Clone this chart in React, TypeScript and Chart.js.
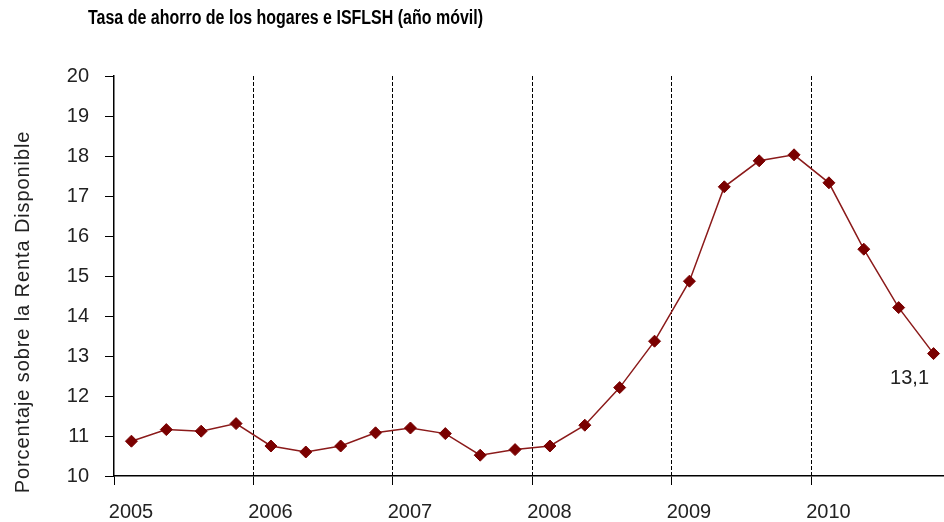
import { useEffect, useRef } from 'react';
import { Chart, registerables } from 'chart.js';

Chart.register(...registerables);

const TITLE = 'Tasa de ahorro de los hogares e ISFLSH (año móvil)';
const Y_TITLE = 'Porcentaje sobre la Renta Disponible';
const YEARS = [2005, 2006, 2007, 2008, 2009, 2010];
const QUARTERS = [
  '2005-1', '2005-2', '2005-3', '2005-4',
  '2006-1', '2006-2', '2006-3', '2006-4',
  '2007-1', '2007-2', '2007-3', '2007-4',
  '2008-1', '2008-2', '2008-3', '2008-4',
  '2009-1', '2009-2', '2009-3', '2009-4',
  '2010-1', '2010-2', '2010-3', '2010-4',
];
const SAVINGS_RATE = [
  10.87, 11.16, 11.12, 11.31,
  10.75, 10.6, 10.75, 11.08,
  11.2, 11.06, 10.52, 10.66,
  10.75, 11.27, 12.21, 13.37,
  14.87, 17.23, 17.88, 18.03,
  17.33, 15.67, 14.21, 13.06,
];
const LAST_LABEL = '13,1';
const Y_MIN = 10;
const Y_MAX = 20;

const FONT = '"Liberation Sans", Arial, sans-serif';

const points = QUARTERS.map((q, i) => {
  const [y, qq] = q.split('-').map(Number);
  return { x: y - YEARS[0] + (qq - 0.5) / 4, y: SAVINGS_RATE[i] };
});

const textPlugin = {
  id: 'texts',
  afterDraw(chart: any) {
    const ctx = chart.ctx as CanvasRenderingContext2D;
    // Title
    ctx.save();
    ctx.font = `bold 20px ${FONT}`;
    const w = ctx.measureText(TITLE).width;
    ctx.translate(88, 24);
    ctx.scale(395 / w, 1);
    ctx.fillStyle = '#000';
    ctx.textBaseline = 'alphabetic';
    ctx.textAlign = 'left';
    ctx.fillText(TITLE, 0, 0);
    ctx.restore();
    // Y title
    ctx.save();
    ctx.translate(23, 312);
    ctx.rotate(-Math.PI / 2);
    ctx.font = `20px ${FONT}`;
    (ctx as any).letterSpacing = '0.9px';
    ctx.textAlign = 'center';
    ctx.textBaseline = 'middle';
    ctx.fillStyle = '#222';
    ctx.fillText(Y_TITLE, 0, 0);
    ctx.restore();
    // Last value label
    const meta = chart.getDatasetMeta(0);
    const pt = meta.data[meta.data.length - 1];
    if (pt) {
      ctx.save();
      ctx.font = `20px ${FONT}`;
      ctx.textAlign = 'center';
      ctx.textBaseline = 'middle';
      ctx.fillStyle = '#222';
      ctx.fillText(LAST_LABEL, pt.x - 24, pt.y + 25);
      ctx.restore();
    }
  },
};

export default function App() {
  const ref = useRef<HTMLCanvasElement | null>(null);
  useEffect(() => {
    if (!ref.current) return;
    const chart = new Chart(ref.current, {
      type: 'line',
      data: {
        datasets: [
          {
            data: points,
            borderColor: '#8B1A1A',
            borderWidth: 1.5,
            backgroundColor: '#7A0000',
            pointBackgroundColor: '#7A0000',
            pointBorderColor: '#7A0000',
            pointStyle: 'rectRot',
            pointRadius: 6,
            pointBorderWidth: 1,
            tension: 0,
            clip: false,
          },
        ],
      },
      options: {
        animation: false,
        responsive: true,
        maintainAspectRatio: false,
        layout: { autoPadding: false, padding: { top: 76, left: 0, right: 0, bottom: 0 } },
        plugins: {
          legend: { display: false },
          title: { display: false },
          tooltip: { enabled: false },
        },
        scales: {
          x: {
            type: 'linear',
            min: 0,
            max: 5.95,
            afterBuildTicks: (scale: any) => {
              scale.ticks = YEARS.map((_, i) => ({ value: i }));
            },
            afterFit: (scale: any) => {
              scale.height = 46;
              scale.paddingRight = 0;
              scale.paddingLeft = 0;
            },
            ticks: {
              autoSkip: false,
              maxRotation: 0,
              labelOffset: 17,
              padding: 15,
              color: '#222',
              font: { family: FONT, size: 20 },
              callback: (v: any) => String(YEARS[Math.round(Number(v))] ?? ''),
            },
            grid: {
              display: true,
              drawOnChartArea: true,
              drawTicks: true,
              tickLength: 9,
              tickColor: '#000',
              tickWidth: 1,
              lineWidth: 1,
              color: (c: any) => (c.tick && c.tick.value === 0 ? 'rgba(0,0,0,0)' : '#000'),
            },
            border: { display: true, color: '#000', width: 1.5, dash: [4, 2] },
          },
          y: {
            type: 'linear',
            min: Y_MIN,
            max: Y_MAX,
            afterFit: (scale: any) => {
              scale.width = 114;
            },
            ticks: {
              stepSize: 1,
              padding: 16,
              color: '#222',
              font: { family: FONT, size: 20 },
            },
            grid: {
              display: true,
              drawOnChartArea: false,
              drawTicks: true,
              tickLength: 9,
              tickColor: '#000',
            },
            border: { display: true, color: '#000', width: 1.5 },
          },
        },
      },
      plugins: [textPlugin],
    });
    return () => chart.destroy();
  }, []);
  return (
    <div style={{ position: 'fixed', left: 0, top: 0, width: 944, height: 522, background: '#fff' }}>
      <canvas ref={ref} />
    </div>
  );
}
